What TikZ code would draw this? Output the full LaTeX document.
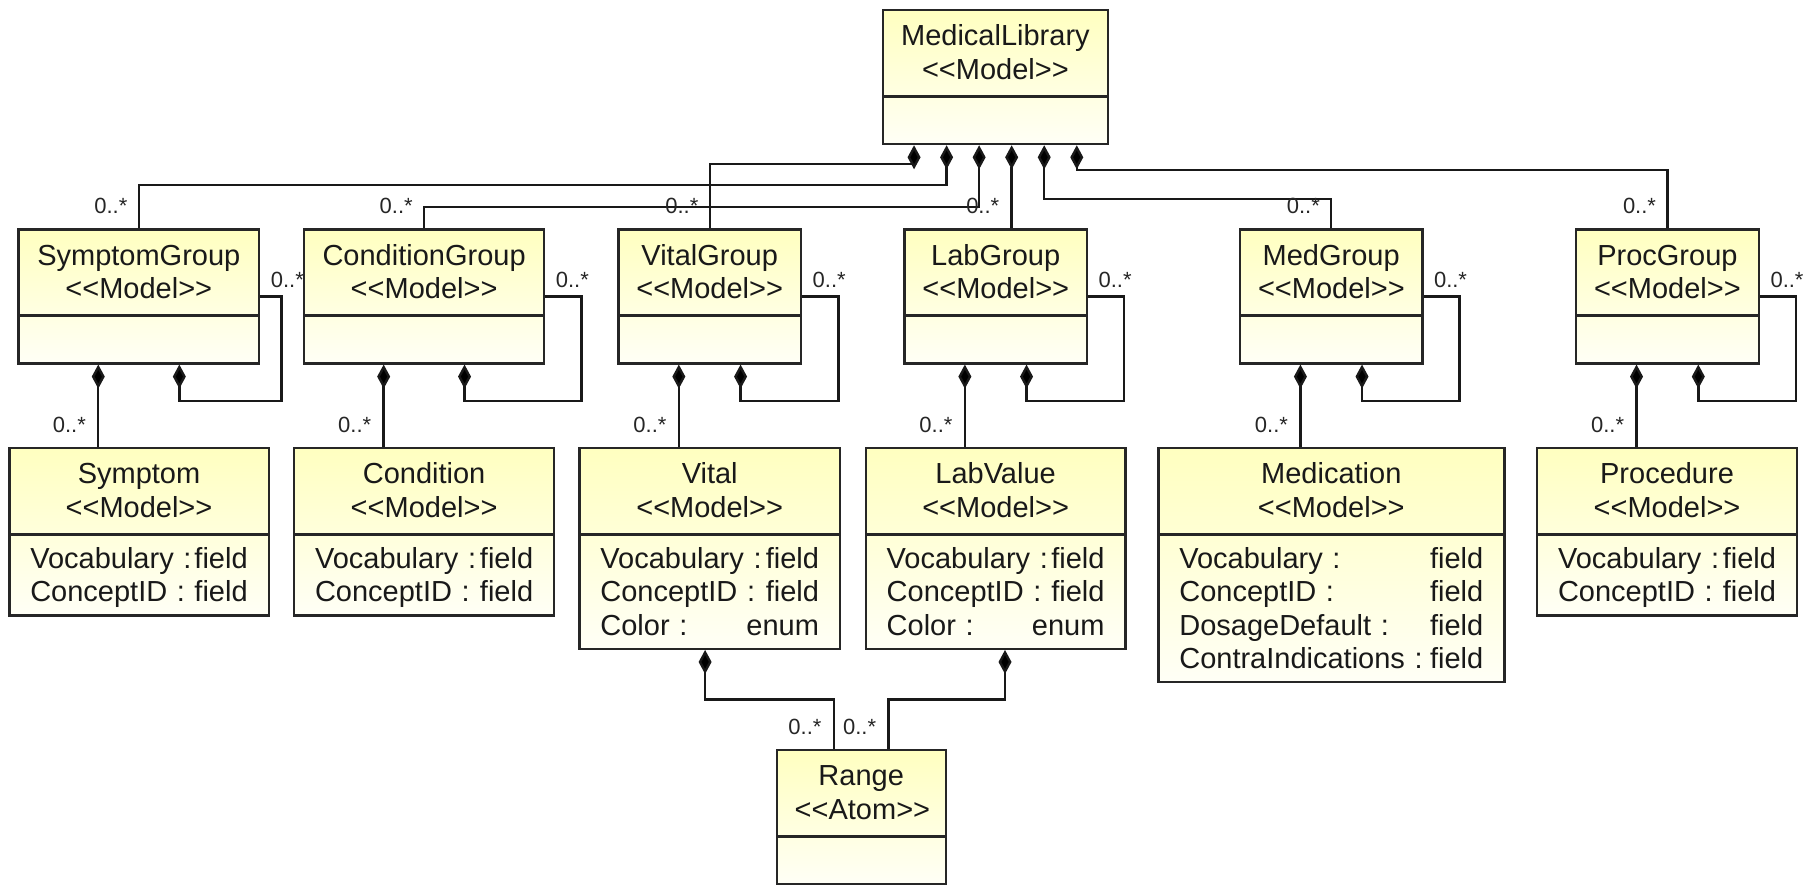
\documentclass[tikz,border=0pt]{standalone}
\usepackage{fontspec}
\setmainfont{Liberation Sans}
\usepackage{xcolor}
\usetikzlibrary{shapes.multipart,arrows.meta,calc}

\definecolor{classtop}{HTML}{FFFFC0}
\definecolor{classbot}{HTML}{FFFFF6}

\newcommand{\stereo}[1]{<{}<#1>{}>}
\newcommand{\classhead}[2]{\rule{0pt}{14.2pt}#1\\\stereo{#2}\rule[-5pt]{0pt}{5pt}}
\newcommand{\clsattr}[2]{\rule[-3.2pt]{0pt}{16.67pt}#1 :\hfill #2}
\newcommand{\clsempty}{\rule[-4.2pt]{0pt}{16.67pt}}

\tikzset{
    umlclass/.style={
        rectangle split, rectangle split parts=2,
        draw=black!85, line width=1.2pt,
        top color=classtop, bottom color=classbot,
        text width=#1, align=center, text=black!90,
        inner xsep=9pt, inner ysep=3pt, anchor=north,
        font=\fontsize{14.5}{16.67}\selectfont
    },
    attrclass/.style={umlclass=#1, inner xsep=10.5pt},
    mult/.style={inner sep=0pt, text=black!85, font=\fontsize{11}{13}\selectfont},
    compo/.style={draw=black!90, line width=1.2pt, {Diamond[length=12pt,width=6.5pt]}-}
}

\begin{document}
\begin{tikzpicture}[x=0.5pt,y=-0.5pt]
    \useasboundingbox (0,0) rectangle (1808,885);

    \node[umlclass=94.7pt] (lib) at (995.4,9) {\classhead{MedicalLibrary}{Model}\nodepart{two}\clsempty};

    \node[umlclass=102.4pt] (symg) at (138.8,228.3) {\classhead{SymptomGroup}{Model}\nodepart{two}\clsempty};
    \node[umlclass=102.1pt] (cndg) at (424.1,228.3) {\classhead{ConditionGroup}{Model}\nodepart{two}\clsempty};
    \node[umlclass=73.4pt] (vitg) at (709.7,228.3) {\classhead{VitalGroup}{Model}\nodepart{two}\clsempty};
    \node[umlclass=73.3pt] (labg) at (995.7,228.3) {\classhead{LabGroup}{Model}\nodepart{two}\clsempty};
    \node[umlclass=73.2pt] (medg) at (1331.2,228.3) {\classhead{MedGroup}{Model}\nodepart{two}\clsempty};
    \node[umlclass=73.5pt] (prog) at (1667.4,228.3) {\classhead{ProcGroup}{Model}\nodepart{two}\clsempty};

    \node[attrclass=108.7pt] (sym) at (139,447) {\classhead{Symptom}{Model}\nodepart{two}%
        \clsattr{Vocabulary}{field}\\\clsattr{ConceptID}{field}};
    \node[attrclass=109.1pt] (cnd) at (424.1,447) {\classhead{Condition}{Model}\nodepart{two}%
        \clsattr{Vocabulary}{field}\\\clsattr{ConceptID}{field}};
    \node[attrclass=109.3pt] (vit) at (709.7,447) {\classhead{Vital}{Model}\nodepart{two}%
        \clsattr{Vocabulary}{field}\\\clsattr{ConceptID}{field}\\\clsattr{Color}{enum}};
    \node[attrclass=108.9pt] (lab) at (995.6,447) {\classhead{LabValue}{Model}\nodepart{two}%
        \clsattr{Vocabulary}{field}\\\clsattr{ConceptID}{field}\\\clsattr{Color}{enum}};
    \node[attrclass=152pt] (med) at (1331.3,447) {\classhead{Medication}{Model}\nodepart{two}%
        \clsattr{Vocabulary}{field}\\\clsattr{ConceptID}{field}\\\clsattr{DosageDefault}{field}\\\clsattr{ContraIndications}{field}};
    \node[attrclass=109pt] (pro) at (1667,447) {\classhead{Procedure}{Model}\nodepart{two}%
        \clsattr{Vocabulary}{field}\\\clsattr{ConceptID}{field}};

    \node[umlclass=66.5pt] (rng) at (861.2,749) {\classhead{Range}{Atom}\nodepart{two}\clsempty};

    \draw[compo] ($(lib.south west)!1/7!(lib.south east)$) |- ($(vitg.north)+(0,-64.3)$) -- (vitg.north);
    \draw[compo] ($(lib.south west)!2/7!(lib.south east)$) |- ($(symg.north)+(0,-43.3)$) -- (symg.north);
    \draw[compo] ($(lib.south west)!3/7!(lib.south east)$) |- ($(cndg.north)+(0,-21.3)$) -- (cndg.north);
    \draw[compo] ($(lib.south west)!4/7!(lib.south east)$) coordinate (lib-4) -- (lib-4 |- labg.north);
    \draw[compo] ($(lib.south west)!5/7!(lib.south east)$) |- ($(medg.north)+(0,-29.3)$) -- (medg.north);
    \draw[compo] ($(lib.south west)!6/7!(lib.south east)$) |- ($(prog.north)+(0,-58.3)$) -- (prog.north);

    \node[mult, anchor=base east] (symg-m) at ($(symg.north)+(-11,-15)$) {0..*};
    \node[mult, anchor=base east] (cndg-m) at ($(cndg.north)+(-11,-15)$) {0..*};
    \node[mult, anchor=base east] (vitg-m) at ($(vitg.north)+(-11,-15)$) {0..*};
    \node[mult, anchor=base east] (labg-m) at ($(lib-4 |- labg.north)+(-12,-15)$) {0..*};
    \node[mult, anchor=base east] (medg-m) at ($(medg.north)+(-11,-15)$) {0..*};
    \node[mult, anchor=base east] (prog-m) at ($(prog.north)+(-11,-15)$) {0..*};

    \draw[compo] ($(symg.south west)!1/3!(symg.south east)$) coordinate (symg-c) -- (symg-c |- sym.north);
    \draw[compo] ($(cndg.south west)!1/3!(cndg.south east)$) coordinate (cndg-c) -- (cndg-c |- cnd.north);
    \draw[compo] ($(vitg.south west)!1/3!(vitg.south east)$) coordinate (vitg-c) -- (vitg-c |- vit.north);
    \draw[compo] ($(labg.south west)!1/3!(labg.south east)$) coordinate (labg-c) -- (labg-c |- lab.north);
    \draw[compo] ($(medg.south west)!1/3!(medg.south east)$) coordinate (medg-c) -- (medg-c |- med.north);
    \draw[compo] ($(prog.south west)!1/3!(prog.south east)$) coordinate (prog-c) -- (prog-c |- pro.north);

    \node[mult, anchor=base east] (sym-m) at ($(symg-c |- sym.north)+(-12,-15)$) {0..*};
    \node[mult, anchor=base east] (cnd-m) at ($(cndg-c |- cnd.north)+(-12,-15)$) {0..*};
    \node[mult, anchor=base east] (vit-m) at ($(vitg-c |- vit.north)+(-12,-15)$) {0..*};
    \node[mult, anchor=base east] (lab-m) at ($(labg-c |- lab.north)+(-12,-15)$) {0..*};
    \node[mult, anchor=base east] (med-m) at ($(medg-c |- med.north)+(-12,-15)$) {0..*};
    \node[mult, anchor=base east] (pro-m) at ($(prog-c |- pro.north)+(-12,-15)$) {0..*};

    \draw[compo] ($(symg.south west)!2/3!(symg.south east)$) |- ($(symg.south east)+(21,36.3)$) |- (symg.east);
    \draw[compo] ($(cndg.south west)!2/3!(cndg.south east)$) |- ($(cndg.south east)+(36,36.3)$) |- (cndg.east);
    \draw[compo] ($(vitg.south west)!2/3!(vitg.south east)$) |- ($(vitg.south east)+(36,36.3)$) |- (vitg.east);
    \draw[compo] ($(labg.south west)!2/3!(labg.south east)$) |- ($(labg.south east)+(36,36.3)$) |- (labg.east);
    \draw[compo] ($(medg.south west)!2/3!(medg.south east)$) |- ($(medg.south east)+(36,36.3)$) |- (medg.east);
    \draw[compo] ($(prog.south west)!2/3!(prog.south east)$) |- ($(prog.south east)+(36,36.3)$) |- (prog.east);

    \node[mult, anchor=base west] (symg-s) at ($(symg.east)+(10,-8.5)$) {0..*};
    \node[mult, anchor=base west] (cndg-s) at ($(cndg.east)+(10,-8.5)$) {0..*};
    \node[mult, anchor=base west] (vitg-s) at ($(vitg.east)+(10,-8.5)$) {0..*};
    \node[mult, anchor=base west] (labg-s) at ($(labg.east)+(10,-8.5)$) {0..*};
    \node[mult, anchor=base west] (medg-s) at ($(medg.east)+(10,-8.5)$) {0..*};
    \node[mult, anchor=base west] (prog-s) at ($(prog.east)+(10,-8.5)$) {0..*};

    \draw[compo] ([xshift=-2.3pt]vit.south) -- ++(0,49.5) -| ([xshift=-13.65pt]rng.north);
    \draw[compo] ([xshift=4.7pt]lab.south) -- ++(0,49.5) -| ([xshift=13.65pt]rng.north);

    \node[mult, anchor=base east] (rng-m1) at ($(rng.north)+(-39.3,-15)$) {0..*};
    \node[mult, anchor=base east] (rng-m2) at ($(rng.north)+(15.3,-15)$) {0..*};
\end{tikzpicture}
\end{document}
